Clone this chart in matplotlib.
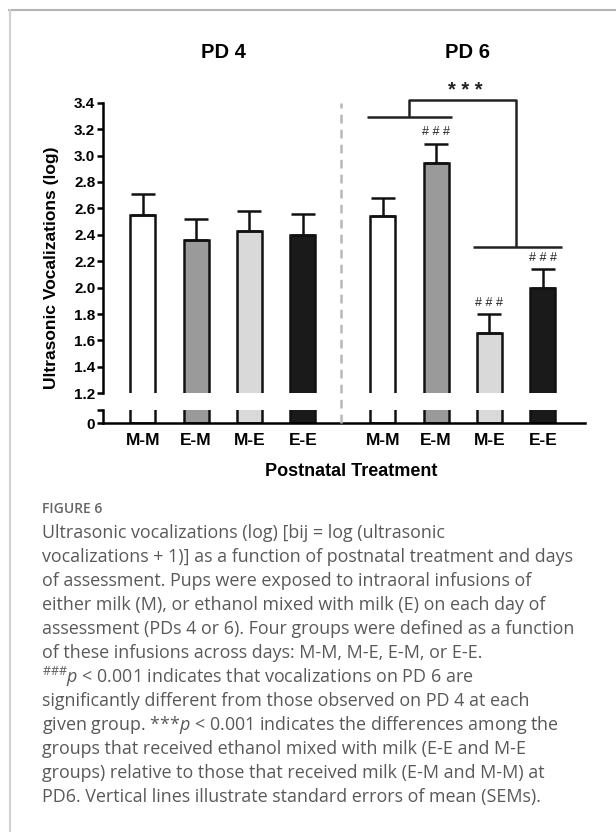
import numpy as np
import matplotlib
matplotlib.use('Agg')
import matplotlib.pyplot as plt
from matplotlib.lines import Line2D
from matplotlib.transforms import blended_transform_factory

# group means and SEMs (log ultrasonic vocalizations)
groups = ['M-M', 'E-M', 'M-E', 'E-E']
pd4_mean = [2.55, 2.36, 2.43, 2.40]
pd4_sem = [0.16, 0.16, 0.15, 0.16]
pd6_mean = [2.54, 2.94, 1.66, 2.00]
pd6_sem = [0.14, 0.15, 0.14, 0.14]
pd6_hash = [False, True, True, True]
bar_colors = ['white', '#9a9a9a', '#d9d9d9', '#1a1a1a']

caption = [
    "Ultrasonic vocalizations (log) [bij = log (ultrasonic",
    "vocalizations + 1)] as a function of postnatal treatment and days",
    "of assessment. Pups were exposed to intraoral infusions of",
    "either milk (M), or ethanol mixed with milk (E) on each day of",
    "assessment (PDs 4 or 6). Four groups were defined as a function",
    "of these infusions across days: M-M, M-E, E-M, or E-E.",
    r"$^{\#\#\#}\mathit{p}$ < 0.001 indicates that vocalizations on PD 6 are",
    "significantly different from those observed on PD 4 at each",
    r"given group. ***$\mathit{p}$ < 0.001 indicates the differences among the",
    "groups that received ethanol mixed with milk (E-E and M-E",
    "groups) relative to those that received milk (E-M and M-M) at",
    "PD6. Vertical lines illustrate standard errors of mean (SEMs).",
]

plt.rcParams['font.family'] = ['Liberation Sans', 'DejaVu Sans']
plt.rcParams['mathtext.fontset'] = 'custom'
plt.rcParams['mathtext.rm'] = 'Open Sans:weight=normal'
plt.rcParams['mathtext.it'] = 'Open Sans:italic:weight=normal'

W, H = 616, 832


def fx(px):
    return px / W


def fy(py):
    return 1 - py / H


fig = plt.figure(figsize=(W / 100, H / 100), dpi=100)

x4 = np.arange(4)
x6 = np.arange(4) + 4.5
lw = 1.8

ax = fig.add_axes([fx(103), fy(393.3), fx(585) - fx(103), (393.3 - 102.7) / H])
axb = fig.add_axes([fx(103), fy(423.3), fx(585) - fx(103), (423.3 - 409.5) / H])

for a in (ax, axb):
    a.bar(x4, pd4_mean, width=0.47, color=bar_colors, edgecolor='#111111', linewidth=lw)
    a.bar(x6, pd6_mean, width=0.47, color=bar_colors, edgecolor='#111111', linewidth=lw)
    a.set_xlim(-0.744, 8.29)
    a.spines[['top', 'right']].set_visible(False)
    for s in a.spines.values():
        s.set_linewidth(lw)
    a.tick_params(axis='y', direction='out', length=4.5, width=lw, labelsize=11, pad=1)

# one-sided SEM bars
for xs, m, s in ((x4, pd4_mean, pd4_sem), (x6, pd6_mean, pd6_sem)):
    ax.errorbar(xs, m, yerr=[np.zeros(4), s], fmt='none', ecolor='#111111',
                elinewidth=lw, capsize=8.5, capthick=lw, zorder=1)

ax.set_ylim(1.2, 3.4)
yt = np.arange(1.2, 3.41, 0.2)
ax.set_yticks(yt)
ax.set_yticklabels([f'{v:.1f}' for v in yt], fontweight='bold')
ax.spines['bottom'].set_visible(False)
ax.set_xticks([])

axb.set_ylim(0, 1)
axb.set_yticks([0, 1])
axb.set_yticklabels(['0', ''], fontweight='bold')
axb.set_xticks(np.concatenate([x4, x6]))
axb.set_xticklabels(groups + groups, fontsize=12.5, fontweight='bold')
axb.tick_params(axis='x', length=0, pad=7)

# ### markers above PD 6 bars
for xi, m, s, h in zip(x6, pd6_mean, pd6_sem, pd6_hash):
    if h:
        ax.text(xi, m + s + 0.085, '# # #', ha='center', va='center',
                fontsize=9, color='#222222')

# *** bracket: milk groups vs ethanol groups on PD 6
bk = dict(color='#222222', lw=lw, clip_on=False, solid_capstyle='butt')
ax.plot([x6[0] - 0.29, x6[1] + 0.29], [3.29, 3.29], **bk)
ax.plot([5.0, 5.0, 7.0, 7.0], [3.29, 3.42, 3.42, 2.31], **bk)
ax.plot([x6[2] - 0.3, x6[3] + 0.35], [2.31, 2.31], **bk)
ax.text(6.05, 3.49, '* * *', ha='center', va='center', fontsize=14.5,
        fontweight='bold', color='#222222')

# dashed divider between days
tr = blended_transform_factory(ax.transData, fig.transFigure)
fig.add_artist(Line2D([3.71, 3.71], [fy(423), fy(103)], transform=tr,
                      color='#b8b8b8', lw=1.8, linestyle=(0, (3.5, 2.5))))

fig.text(1.52, fy(53), 'PD 4', transform=tr, ha='center', va='center',
         fontsize=14.5, fontweight='bold')
fig.text(6.08, fy(53), 'PD 6', transform=tr, ha='center', va='center',
         fontsize=14.5, fontweight='bold')
fig.text(fx(52), fy(268), 'Ultrasonic Vocalizations (log)', rotation=90,
         ha='center', va='center', fontsize=12.5, fontweight='bold')
fig.text(fx(351), fy(472), 'Postnatal Treatment', ha='center', va='center',
         fontsize=13, fontweight='bold')

# caption block
fig.text(fx(42), fy(509), 'FIGURE 6', ha='left', va='center', fontsize=10,
         family='Open Sans', fontweight='semibold', color='#666666')
for i, line in enumerate(caption):
    fig.text(fx(42), fy(533 + 24 * i), line, ha='left', va='center', fontsize=12.9,
             family='Open Sans', color='#595959')

# page frame
fig.add_artist(Line2D([fx(9), 1], [fy(10), fy(10)], color='#b4b4b4', lw=1.5))
fig.add_artist(Line2D([fx(10), fx(10)], [fy(10), 0], color='#d0d0d0', lw=1.5))

fig.savefig('out.png', dpi=100)
